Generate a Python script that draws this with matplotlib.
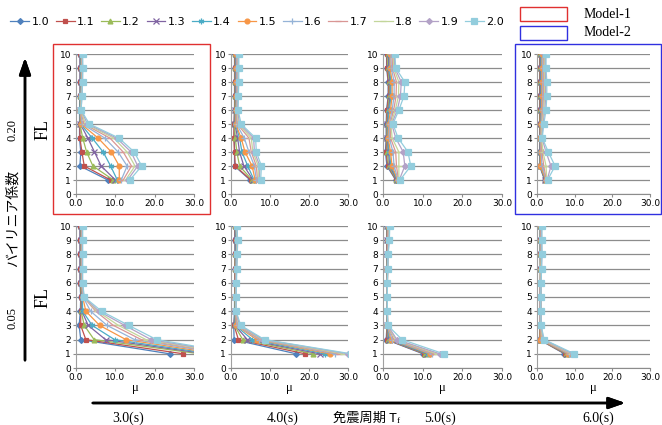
import numpy as np
import matplotlib.pyplot as plt
from matplotlib.patches import Rectangle

W, H = 662, 425

# floors 1..10
floors = [1, 2, 3, 4, 5, 6, 7, 8, 9, 10]
coef = ['1.0', '1.1', '1.2', '1.3', '1.4', '1.5', '1.6', '1.7', '1.8', '1.9', '2.0']
periods = ['3.0(s)', '4.0(s)', '5.0(s)', '6.0(s)']

# bilinear coefficient 0.20, Tf = 3.0s
mu_20_30 = [
    [8.1, 1.0, 1.2, 0.9, 0.9, 0.9, 1.0, 1.0, 1.0, 1.0],
    [8.8, 2.1, 1.5, 1.0, 1.0, 1.0, 1.1, 1.1, 1.1, 1.1],
    [9.5, 4.3, 2.7, 1.7, 1.0, 1.0, 1.1, 1.2, 1.2, 1.2],
    [10.0, 6.4, 4.7, 3.0, 1.1, 1.0, 1.2, 1.3, 1.3, 1.3],
    [10.5, 8.8, 6.9, 4.1, 1.2, 1.0, 1.2, 1.3, 1.3, 1.3],
    [11.0, 11.0, 9.0, 5.6, 1.3, 1.1, 1.3, 1.4, 1.4, 1.4],
    [11.5, 13.0, 10.7, 7.3, 1.6, 1.1, 1.3, 1.5, 1.5, 1.5],
    [12.0, 14.1, 12.0, 8.6, 2.0, 1.2, 1.4, 1.5, 1.5, 1.5],
    [12.6, 15.0, 13.0, 9.6, 2.4, 1.2, 1.4, 1.6, 1.6, 1.6],
    [13.1, 15.7, 14.0, 10.3, 2.9, 1.3, 1.5, 1.6, 1.7, 1.6],
    [13.7, 16.7, 14.8, 10.9, 3.4, 1.3, 1.5, 1.7, 1.7, 1.7],
]
# 0.20, 4.0s
mu_20_40 = [
    [4.9, 0.9, 0.9, 0.9, 0.8, 0.9, 0.9, 0.9, 0.9, 0.9],
    [5.1, 1.1, 0.9, 0.7, 0.8, 0.9, 1.0, 1.0, 1.0, 1.0],
    [5.4, 2.2, 1.5, 1.1, 0.9, 1.0, 1.1, 1.1, 1.1, 1.1],
    [5.7, 3.3, 2.2, 1.7, 1.0, 1.1, 1.2, 1.2, 1.2, 1.2],
    [5.9, 4.3, 2.8, 2.2, 1.1, 1.2, 1.3, 1.3, 1.3, 1.3],
    [6.2, 5.4, 3.6, 2.6, 1.2, 1.3, 1.4, 1.4, 1.4, 1.4],
    [6.5, 6.0, 4.6, 3.4, 1.4, 1.4, 1.5, 1.5, 1.5, 1.5],
    [6.8, 6.5, 5.2, 4.6, 1.6, 1.5, 1.6, 1.6, 1.6, 1.6],
    [7.0, 7.0, 5.6, 5.2, 1.9, 1.6, 1.7, 1.7, 1.7, 1.7],
    [7.3, 7.4, 6.0, 5.8, 2.2, 1.7, 1.8, 1.8, 1.8, 1.8],
    [7.6, 7.8, 6.5, 6.3, 2.6, 1.8, 1.9, 2.0, 2.0, 2.0],
]
# 0.20, 5.0s
mu_20_50 = [
    [3.2, 1.0, 0.6, 0.8, 0.8, 0.9, 1.3, 1.3, 0.9, 0.9],
    [3.3, 1.2, 0.8, 0.9, 0.9, 1.0, 1.4, 1.4, 1.0, 1.0],
    [3.4, 1.4, 1.1, 1.0, 1.0, 1.2, 1.6, 1.6, 1.2, 1.2],
    [3.5, 1.7, 1.4, 1.1, 1.1, 1.4, 1.8, 1.8, 1.4, 1.4],
    [3.6, 2.0, 1.6, 1.2, 1.2, 1.6, 2.0, 2.0, 1.6, 1.6],
    [3.7, 2.3, 1.9, 1.3, 1.4, 1.9, 2.3, 2.3, 1.8, 1.8],
    [3.8, 2.8, 2.5, 1.6, 1.6, 2.3, 2.8, 2.8, 2.1, 2.0],
    [3.9, 3.4, 3.2, 1.9, 1.8, 2.7, 3.3, 3.4, 2.4, 2.3],
    [4.0, 4.0, 4.0, 2.3, 2.0, 3.1, 3.9, 4.0, 2.7, 2.6],
    [4.1, 5.5, 5.1, 3.2, 2.2, 3.6, 4.4, 4.6, 3.0, 2.8],
    [4.3, 7.0, 6.3, 3.8, 2.5, 4.0, 5.3, 5.5, 3.2, 3.0],
]
# 0.20, 6.0s
mu_20_60 = [
    [2.0, 0.7, 0.7, 0.7, 0.7, 0.7, 0.7, 0.7, 0.7, 0.7],
    [2.1, 0.8, 0.7, 0.7, 0.7, 0.8, 0.8, 0.8, 0.8, 0.8],
    [2.2, 0.8, 0.8, 0.8, 0.8, 0.9, 0.9, 0.9, 0.9, 0.9],
    [2.2, 0.9, 0.8, 0.8, 0.9, 1.0, 1.0, 1.0, 1.0, 1.0],
    [2.3, 0.9, 0.9, 0.9, 1.0, 1.1, 1.1, 1.1, 1.1, 1.1],
    [2.4, 0.9, 1.0, 0.9, 1.1, 1.2, 1.3, 1.3, 1.3, 1.4],
    [2.5, 1.3, 1.1, 1.0, 1.2, 1.4, 1.5, 1.5, 1.5, 1.6],
    [2.5, 1.8, 1.3, 1.1, 1.3, 1.6, 1.7, 1.7, 1.7, 1.8],
    [2.6, 2.4, 1.6, 1.2, 1.4, 1.8, 2.0, 2.0, 1.9, 2.0],
    [2.7, 3.7, 2.4, 1.3, 1.6, 2.1, 2.3, 2.3, 2.2, 2.2],
    [2.8, 4.8, 3.0, 1.4, 1.8, 2.4, 2.6, 2.6, 2.4, 2.4],
]
# 0.05, 3.0s (floor 1 runs off the 30.0 axis for most series)
mu_05_30 = [
    [23.8, 1.2, 0.8, 1.1, 1.2, 1.0, 1.0, 1.0, 1.0, 1.0],
    [27.3, 2.5, 1.2, 1.2, 1.3, 1.1, 1.1, 1.1, 1.1, 1.1],
    [31.5, 4.6, 2.1, 1.3, 1.4, 1.2, 1.2, 1.2, 1.2, 1.2],
    [33.0, 7.5, 3.1, 1.5, 1.5, 1.3, 1.3, 1.3, 1.3, 1.3],
    [34.5, 9.8, 4.1, 1.7, 1.6, 1.3, 1.4, 1.4, 1.4, 1.4],
    [36.0, 12.7, 6.0, 2.5, 1.7, 1.4, 1.4, 1.4, 1.4, 1.4],
    [37.5, 14.9, 7.9, 3.7, 1.8, 1.5, 1.5, 1.5, 1.5, 1.5],
    [38.5, 16.6, 9.5, 5.0, 1.9, 1.5, 1.5, 1.5, 1.5, 1.5],
    [39.5, 17.8, 10.8, 5.4, 2.0, 1.6, 1.6, 1.6, 1.6, 1.6],
    [40.5, 19.1, 12.4, 5.8, 2.0, 1.6, 1.6, 1.6, 1.6, 1.6],
    [41.5, 20.5, 13.4, 6.5, 2.1, 1.7, 1.7, 1.7, 1.7, 1.7],
]
# 0.05, 4.0s
mu_05_40 = [
    [16.7, 0.8, 0.7, 0.9, 0.9, 1.0, 1.0, 1.0, 1.0, 0.9],
    [19.0, 1.9, 0.8, 1.0, 1.0, 1.0, 1.0, 1.1, 1.1, 1.0],
    [21.1, 3.0, 0.9, 1.0, 1.0, 1.1, 1.1, 1.1, 1.2, 1.1],
    [22.7, 4.2, 1.0, 1.1, 1.1, 1.1, 1.2, 1.2, 1.3, 1.2],
    [24.1, 5.5, 1.1, 1.1, 1.1, 1.2, 1.2, 1.3, 1.4, 1.2],
    [25.4, 6.6, 1.3, 1.2, 1.1, 1.2, 1.3, 1.4, 1.5, 1.3],
    [26.6, 7.2, 1.5, 1.2, 1.2, 1.2, 1.3, 1.4, 1.5, 1.3],
    [27.7, 7.6, 1.7, 1.2, 1.2, 1.3, 1.4, 1.5, 1.6, 1.4],
    [28.6, 8.0, 2.0, 1.3, 1.2, 1.3, 1.4, 1.5, 1.6, 1.4],
    [30.0, 8.3, 2.2, 1.3, 1.3, 1.3, 1.4, 1.6, 1.7, 1.5],
    [30.8, 8.6, 2.5, 1.3, 1.3, 1.4, 1.5, 1.6, 1.7, 1.5],
]
# 0.05, 5.0s
mu_05_50 = [
    [10.1, 0.8, 1.0, 1.0, 1.0, 1.0, 1.0, 1.0, 1.0, 0.9],
    [10.4, 1.0, 1.0, 1.0, 1.0, 1.0, 1.0, 1.0, 1.0, 1.0],
    [10.7, 1.2, 1.0, 1.0, 1.0, 1.0, 1.0, 1.1, 1.1, 1.0],
    [11.0, 1.4, 1.1, 1.0, 1.0, 1.0, 1.1, 1.1, 1.1, 1.1],
    [11.3, 1.7, 1.1, 1.0, 1.0, 1.1, 1.1, 1.1, 1.2, 1.1],
    [11.8, 2.0, 1.1, 1.1, 1.1, 1.1, 1.1, 1.2, 1.2, 1.2],
    [12.3, 2.3, 1.1, 1.1, 1.1, 1.1, 1.1, 1.2, 1.3, 1.3],
    [12.9, 2.7, 1.2, 1.1, 1.1, 1.1, 1.2, 1.2, 1.3, 1.4],
    [13.5, 3.1, 1.2, 1.1, 1.1, 1.1, 1.2, 1.3, 1.4, 1.5],
    [14.3, 3.5, 1.2, 1.1, 1.1, 1.1, 1.2, 1.3, 1.5, 1.6],
    [15.3, 4.8, 1.2, 1.1, 1.1, 1.1, 1.2, 1.3, 1.6, 1.7],
]
# 0.05, 6.0s
mu_05_60 = [
    [7.3, 0.6, 0.9, 0.9, 0.9, 0.9, 0.9, 0.8, 0.8, 0.8],
    [7.5, 0.7, 0.9, 0.9, 0.9, 0.9, 0.9, 0.9, 0.9, 0.9],
    [7.7, 0.8, 0.9, 0.9, 0.9, 0.9, 0.9, 0.9, 0.9, 0.9],
    [7.9, 0.9, 0.9, 0.9, 0.9, 0.9, 1.0, 1.0, 1.0, 1.0],
    [8.1, 1.0, 1.0, 1.0, 1.0, 1.0, 1.0, 1.0, 1.0, 1.0],
    [8.3, 0.8, 1.0, 1.0, 1.0, 1.0, 1.0, 1.1, 1.0, 1.0],
    [8.5, 1.2, 1.0, 1.0, 1.0, 1.0, 1.1, 1.1, 1.1, 1.1],
    [8.8, 1.3, 1.0, 1.0, 1.0, 1.1, 1.1, 1.2, 1.1, 1.1],
    [9.1, 1.5, 1.0, 1.0, 1.0, 1.1, 1.1, 1.2, 1.2, 1.2],
    [9.5, 1.7, 1.1, 1.0, 1.0, 1.1, 1.2, 1.3, 1.2, 1.2],
    [9.9, 1.9, 1.1, 1.0, 1.0, 1.1, 1.2, 1.3, 1.3, 1.3],
]

top_row = [mu_20_30, mu_20_40, mu_20_50, mu_20_60]
bottom_row = [mu_05_30, mu_05_40, mu_05_50, mu_05_60]

# excel 2007 style series colours / markers
colors = ['#4F81BD', '#C0504D', '#9BBB59', '#8064A2', '#4BACC6', '#F79646',
          '#95B3D7', '#D99694', '#C3D69B', '#B3A2C7', '#93CDDD']
markers = ['D', 's', '^', 'x', (6, 2, 0), 'o', '+', '_', '_', 'D', 's']
msizes = [3, 3.5, 3.5, 4, 4, 3.5, 4, 4, 4, 3, 4.5]


def px_axes(l, t, r, b):
    return fig.add_axes([l / W, 1 - b / H, (r - l) / W, (b - t) / H])


fig = plt.figure(figsize=(W / 100, H / 100), dpi=100)

cols = [(76, 194), (231, 348), (383, 502), (537, 650)]
rows = [(54, 194), (226, 368)]

for ri, (t, b) in enumerate(rows):
    data_row = top_row if ri == 0 else bottom_row
    for ci, (l, r) in enumerate(cols):
        ax = px_axes(l, t, r, b)
        for k in range(len(coef)):
            ax.plot(data_row[ci][k], floors, color=colors[k], marker=markers[k],
                    ms=msizes[k], lw=0.9, mew=0.9, label=coef[k])
        ax.set_xlim(0, 30)
        ax.set_ylim(0, 10)
        ax.set_xticks([0, 10, 20, 30])
        ax.set_xticklabels(['0.0', '10.0', '20.0', '30.0'])
        ax.set_yticks(range(11))
        ax.yaxis.grid(True, color='#8c8c8c', lw=0.9)
        ax.set_axisbelow(True)
        for s in ['top', 'right']:
            ax.spines[s].set_visible(False)
        ax.spines['left'].set_color('#a0a0a0')
        ax.spines['bottom'].set_color('#8c8c8c')
        ax.tick_params(labelsize=6.5, length=2, color='#8c8c8c', pad=1.5)
        if ri == 1:
            ax.set_xlabel('μ', fontsize=9, family='Liberation Serif', labelpad=0)
        if ri == 0 and ci == 0:
            handles, labels = ax.get_legend_handles_labels()

# legend
fig.legend(handles, labels, loc='center', bbox_to_anchor=(257 / W, 1 - 22 / H),
           ncol=11, frameon=False, fontsize=8, handlelength=1.7,
           handletextpad=0.2, columnspacing=0.6, borderpad=0)

# model boxes
fig.add_artist(Rectangle((53 / W, 1 - 214 / H), 157 / W, 170 / H, fill=False,
                         ec='#e03030', lw=1.0, transform=fig.transFigure))
fig.add_artist(Rectangle((515 / W, 1 - 214 / H), 146 / W, 170 / H, fill=False,
                         ec='#3030e0', lw=1.0, transform=fig.transFigure))
fig.add_artist(Rectangle((520 / W, 1 - 21 / H), 47 / W, 14 / H, fill=False,
                         ec='#e03030', lw=1.0, transform=fig.transFigure))
fig.add_artist(Rectangle((520 / W, 1 - 40 / H), 47 / W, 14 / H, fill=False,
                         ec='#3030e0', lw=1.0, transform=fig.transFigure))
fig.text(584 / W, 1 - 14 / H, 'Model-1', fontsize=10, family='Liberation Serif', va='center')
fig.text(584 / W, 1 - 33 / H, 'Model-2', fontsize=10, family='Liberation Serif', va='center')

# left arrow and labels
fig.add_artist(plt.annotate('', xy=(25 / W, 1 - 55 / H), xytext=(25 / W, 1 - 363 / H),
                            xycoords='figure fraction',
                            arrowprops=dict(arrowstyle='-|>,head_width=0.35,head_length=1.0',
                                            color='black', lw=1.8)))
fig.text(13 / W, 1 - 130 / H, '0.20', rotation=90, fontsize=9, family='Liberation Serif',
         ha='center', va='center')
fig.text(13 / W, 1 - 218 / H, 'バイリニア係数', rotation=90, fontsize=10,
         family=['Noto Sans CJK JP', 'DejaVu Sans'], ha='center', va='center')
fig.text(13 / W, 1 - 318 / H, '0.05', rotation=90, fontsize=9, family='Liberation Serif',
         ha='center', va='center')
fig.text(43 / W, 1 - 130 / H, 'FL', rotation=90, fontsize=13, family='Liberation Serif',
         ha='center', va='center')
fig.text(43 / W, 1 - 297 / H, 'FL', rotation=90, fontsize=13, family='Liberation Serif',
         ha='center', va='center')

# bottom arrow and labels
fig.add_artist(plt.annotate('', xy=(628 / W, 1 - 403 / H), xytext=(90 / W, 1 - 403 / H),
                            xycoords='figure fraction',
                            arrowprops=dict(arrowstyle='-|>,head_width=0.35,head_length=1.0',
                                            color='black', lw=1.8)))
for xp, lab in zip([128, 283, 440, 598], periods):
    fig.text(xp / W, 1 - 418 / H, lab, fontsize=10, family='Liberation Serif',
             ha='center', va='center')
fig.text(397 / W, 1 - 418 / H, '免震周期 T', fontsize=9.5,
         family=['Noto Sans CJK JP', 'Liberation Serif'], ha='right', va='center')
fig.text(397 / W, 1 - 421 / H, 'f', fontsize=6.5, family='Liberation Serif',
         ha='left', va='center')

plt.savefig('out.png', dpi=100)
